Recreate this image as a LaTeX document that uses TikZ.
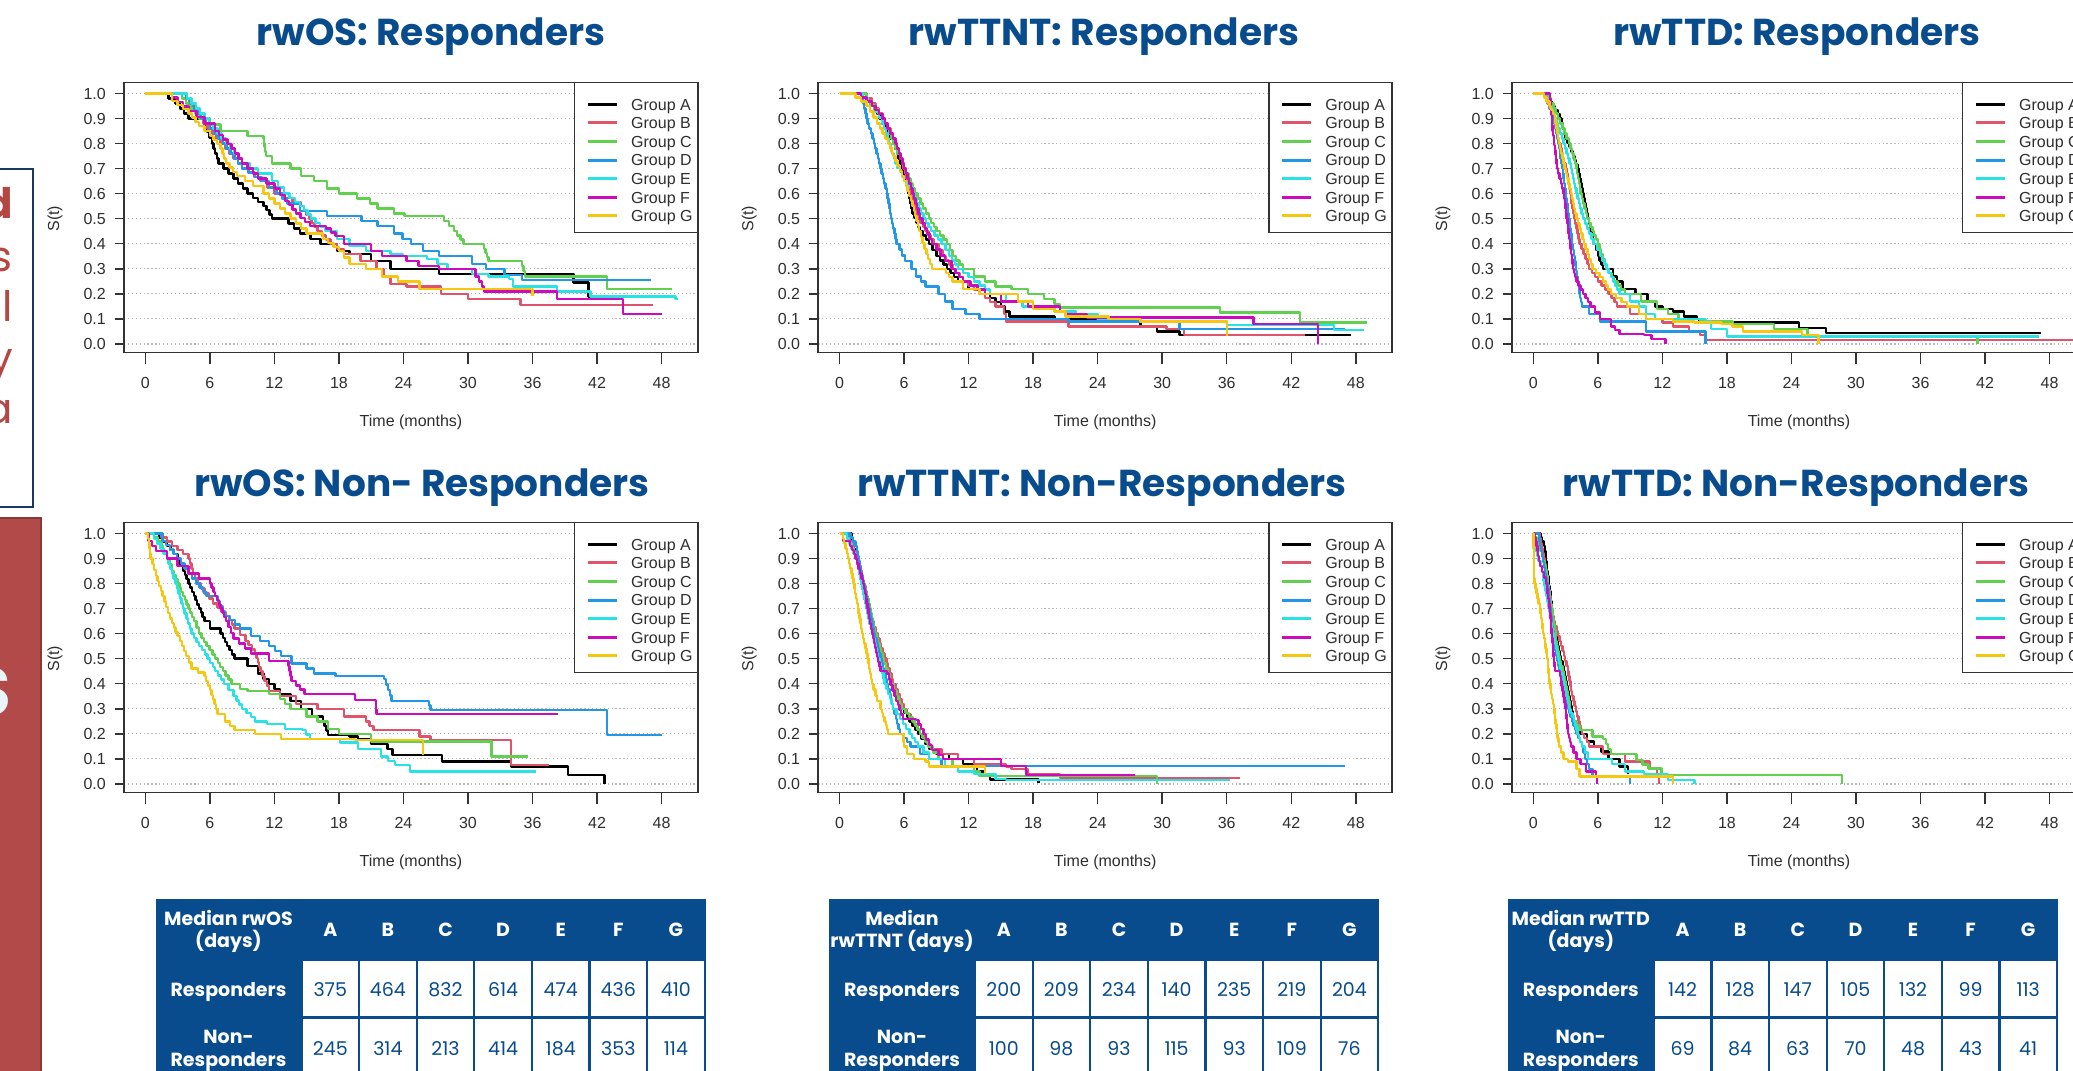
\documentclass[tikz,border=0pt]{standalone}
\usepackage{fontspec}
\setmainfont{Poppins}
\newfontfamily\plotfont{Liberation Sans}
\definecolor{nblue}{RGB}{8,76,141}
\definecolor{navyb}{RGB}{24,56,96}
\definecolor{redbox}{RGB}{178,74,74}
\definecolor{redline}{RGB}{140,55,55}
\definecolor{redtxt}{RGB}{181,70,66}
\definecolor{glyphw}{RGB}{234,244,251}
\definecolor{kmA}{HTML}{000000}
\definecolor{kmB}{HTML}{DF536B}
\definecolor{kmC}{HTML}{61D04F}
\definecolor{kmD}{HTML}{2297E6}
\definecolor{kmE}{HTML}{28E2E5}
\definecolor{kmF}{HTML}{CD0BBC}
\definecolor{kmG}{HTML}{F5C710}
\tikzset{
  kmline/.style={line width=2.4pt, line join=round},
  gridl/.style={draw=black!28, line width=1.1pt, dash pattern=on 1.3pt off 2.6pt},
  axl/.style={draw=black!80, line width=1.5pt},
  ptext/.style={font=\plotfont\fontsize{16}{18}\selectfont, text=black!82, inner sep=0pt},
  ttl/.style={font=\bfseries\fontsize{37.5}{42}\selectfont, text=nblue, inner sep=0pt, anchor=base},
  hdr/.style={font=\bfseries\fontsize{19}{22}\selectfont, text=white, inner sep=0pt, anchor=base},
  val/.style={font=\fontsize{19}{22}\selectfont, text=nblue, inner sep=0pt, anchor=base},
  redt/.style={font=\fontsize{42}{44}\selectfont, text=redtxt, inner sep=0pt, anchor=base east},
}
% Kaplan-Meier staircase from knots t/s
\newcommand\km[2]{%
  \gdef\kmpath{(0,1)}\gdef\kmpt{0}\gdef\kmps{1}%
  \foreach \kt/\ks in {#2}{%
    \pgfmathtruncatemacro\kmk{max(1,round((\kmps-\ks)/0.02))}%
    \foreach \kj in {1,...,\kmk}{%
      \pgfmathsetmacro\kmx{\kmpt+(\kt-\kmpt)*\kj/\kmk}%
      \pgfmathsetmacro\kmy{\kmps+(\ks-\kmps)*\kj/\kmk}%
      \xdef\kmpath{\kmpath\space -| (\kmx,\kmy)}%
    }%
    \xdef\kmpt{\kt}\xdef\kmps{\ks}%
  }%
  \edef\kmcmd{\noexpand\draw[kmline,#1] \kmpath;}\kmcmd
}
\newcommand\kmaxes[1]{%
  \foreach \k in {0,...,10}{\draw[gridl] (124,{344-25.07*\k}) -- (698,{344-25.07*\k});}
  \foreach \k/\lab in {0/0.0,1/0.1,2/0.2,3/0.3,4/0.4,5/0.5,6/0.6,7/0.7,8/0.8,9/0.9,10/1.0}{%
    \draw[axl] (114.7,{344-25.07*\k}) -- (124,{344-25.07*\k});
    \node[ptext,anchor=base east] (#1-y\k) at (106,{344-25.07*\k+5.7}) {\lab};}
  \foreach \m in {0,6,...,48}{%
    \draw[axl] ({145.3+10.756*\m},352.7) -- ++(0,11.3);
    \node[ptext,anchor=base] (#1-x\m) at ({145.3+10.756*\m},388.7) {\m};}
  \node[ptext,anchor=base] (#1-xt) at (411,426.7) {Time (months)};
  \node[ptext,rotate=90] (#1-yt) at (55,218.7) {S(t)};
}
\newcommand\kmlegend[1]{%
  \draw[axl,fill=white] (574.7,82.7) rectangle (698,232.7);
  \foreach \g [count=\i from 0] in {A,B,C,D,E,F,G}{%
    \draw[color=km\g, line width=3pt] (588,{104.3+18.6*\i}) -- (617,{104.3+18.6*\i});
    \node[ptext,anchor=base west] (#1-l\g) at (631,{104.3+18.6*\i+5.7}) {Group \g};}
  \draw[axl] (124,82.7) rectangle (698,352.7);
}
\newcommand\mtab[6]{%
  \begin{scope}[shift={(#1,0)}]
    \fill[nblue] (0,899) rectangle (550,1090);
    \foreach \h [count=\i from 0] in {A,B,C,D,E,F,G}{%
      \node[hdr] (#2-h\h) at ({146+57.6*(\i+0.5)},936.5) {\h};}
    \foreach \v [count=\i from 0] in {#5}{%
      \fill[white] ({146+57.6*\i+1.1},961) rectangle ({146+57.6*(\i+1)-1.1},1016.4);
      \node[val] (#2-r\i) at ({146+57.6*(\i+0.5)},996) {\v};}
    \foreach \v [count=\i from 0] in {#6}{%
      \fill[white] ({146+57.6*\i+1.1},1018.6) rectangle ({146+57.6*(\i+1)-1.1},1090);
      \node[val] (#2-n\i) at ({146+57.6*(\i+0.5)},1055) {\v};}
    \node[hdr] (#2-m1) at (73,925.5) {#3};
    \node[hdr] (#2-m2) at (73,947) {#4};
    \node[hdr] (#2-lr) at (73,996) {Responders};
    \node[hdr] (#2-ln1) at (73,1043) {Non-};
    \node[hdr] (#2-ln2) at (73,1066.5) {Responders};
  \end{scope}
}
\begin{document}
\begin{tikzpicture}[x=1pt,y=-1pt]
\useasboundingbox (0,0) rectangle (2073,1071);
% ---------- left edge fragments
\draw[draw=navyb, line width=2pt, fill=white] (-10,169) rectangle (33,507);
\node[redt,font=\bfseries\fontsize{42}{44}\selectfont] (r1) at (13,218) {d};
\node[redt] (r2) at (13,271) {s};
\node[redt] (r3) at (13,321) {ll};
\node[redt] (r4) at (13,372) {y};
\node[redt] (r5) at (13,423) {a};
\draw[draw=redline, line width=1.5pt, fill=redbox] (-10,518) rectangle (41,1090);
\node[anchor=east, inner sep=0pt, text=glyphw, font=\bfseries\fontsize{68}{70}\selectfont] (wS) at (12,692) {S};
% ---------- titles
\node[ttl] (t1) at (431,45.7) {rwOS: Responders};
\node[ttl] (t2) at (1104,45.7) {rwTTNT: Responders};
\node[ttl] (t3) at (1797,45.7) {rwTTD: Responders};
\node[ttl] (t4) at (422,496.7) {rwOS: Non- Responders};
\node[ttl] (t5) at (1102,496.7) {rwTTNT: Non-Responders};
\node[ttl] (t6) at (1796,496.7) {rwTTD: Non-Responders};
% ---------- plot 1: rwOS responders
\begin{scope}
\kmaxes{p1}
\begin{scope}[shift={(145.3,344)},x=10.756pt,y=250.7pt]
\km{kmA}{1.5/1, 2.8/0.96, 4/0.9, 5.5/0.87, 6.2/0.8, 6.8/0.72, 8.2/0.66, 9.5/0.6, 11/0.55, 11.8/0.5, 13.3/0.48, 14.4/0.44, 16.3/0.4, 17.8/0.37, 19/0.36, 21/0.33, 22.8/0.3, 27.3/0.3, 27.3/0.28, 39.8/0.28, 39.8/0.245, 41.2/0.245, 41.2/0.19, 48.2/0.19}
\km{kmB}{3.5/1, 5/0.9, 7/0.8, 9/0.7, 10.7/0.65, 12/0.6, 14.5/0.55, 15.2/0.5, 16/0.45, 17.2/0.4, 18.5/0.36, 20/0.33, 21.5/0.3, 22.2/0.27, 22.8/0.24, 24.3/0.23, 27.5/0.2, 30/0.18, 34.9/0.18, 34.9/0.155, 47.2/0.155}
\km{kmC}{3/1, 5/0.9, 7/0.85, 9.5/0.83, 11/0.82, 11.2/0.75, 11.8/0.72, 13.5/0.7, 14.5/0.67, 15.7/0.65, 16.9/0.62, 18/0.6, 19.7/0.58, 20.9/0.56, 21.6/0.54, 23.1/0.52, 24.1/0.51, 27.3/0.51, 28.7/0.45, 29.6/0.4, 31.5/0.38, 31.9/0.33, 34.9/0.33, 35.3/0.27, 42.9/0.27, 42.9/0.22, 49/0.22}
\km{kmD}{3.5/1, 5.2/0.9, 7.2/0.8, 9/0.7, 10.8/0.65, 12.2/0.6, 13.2/0.56, 14.4/0.53, 16.9/0.53, 16.9/0.51, 20.1/0.51, 20.1/0.49, 21.6/0.47, 23.1/0.44, 24.7/0.4, 25.8/0.37, 27.3/0.37, 27.3/0.35, 30.4/0.32, 31.7/0.3, 33.4/0.275, 35/0.255, 47/0.255}
\km{kmE}{3.5/1, 5.5/0.9, 7.5/0.8, 9/0.72, 10.5/0.68, 11.8/0.65, 12.9/0.6, 14.4/0.55, 15.4/0.5, 16.7/0.45, 17.8/0.42, 19/0.39, 20.5/0.37, 22.8/0.36, 23.9/0.35, 26.2/0.34, 28.1/0.3, 30.4/0.28, 31.9/0.27, 33.8/0.26, 34.2/0.23, 38.3/0.23, 38.3/0.21, 41.4/0.19, 49.3/0.18, 49.5/0.18}
\km{kmF}{2/1, 4/0.93, 5.5/0.88, 6.5/0.85, 8/0.78, 9/0.72, 10.5/0.66, 12/0.62, 13/0.57, 14/0.52, 15.3/0.47, 16.8/0.46, 17.7/0.43, 18.5/0.4, 21/0.4, 21/0.37, 22/0.35, 24.3/0.33, 25.4/0.31, 27.3/0.3, 30.7/0.3, 30.7/0.27, 31.3/0.23, 31.5/0.21, 38.3/0.21, 38.3/0.18, 44.4/0.18, 44.4/0.12, 48/0.12}
\km{kmG}{1/1, 2.5/0.97, 4/0.92, 5/0.87, 6/0.83, 7/0.78, 7.5/0.72, 8.5/0.67, 10/0.63, 11/0.6, 12/0.56, 13/0.52, 14/0.48, 15/0.44, 16.5/0.42, 18/0.37, 19/0.32, 20.5/0.3, 22/0.27, 23.5/0.25, 25.5/0.22, 36/0.22, 36/0.19}
\end{scope}
\kmlegend{p1}
\end{scope}
% ---------- plot 2: rwTTNT responders
\begin{scope}[shift={(694.2,0)}]
\kmaxes{p2}
\begin{scope}[shift={(145.3,344)},x=10.756pt,y=250.7pt]
\km{kmA}{1.5/1, 3/0.95, 3.7/0.9, 5/0.8, 5.8/0.7, 6.4/0.6, 6.8/0.52, 7.5/0.45, 8.3/0.4, 9/0.35, 10/0.3, 11/0.25, 12/0.22, 13.5/0.2, 15/0.15, 15.8/0.11, 20/0.1, 24/0.09, 28/0.07, 29.5/0.05, 31.6/0.05, 31.6/0.035, 47.6/0.035}
\km{kmB}{2/1, 3/0.96, 4/0.9, 5/0.82, 5.8/0.72, 6.6/0.6, 7.3/0.5, 8/0.45, 8.8/0.4, 9.6/0.35, 10.5/0.3, 11.5/0.25, 13/0.2, 14.5/0.15, 15.3/0.12, 15.5/0.09, 21.3/0.09, 21.3/0.07, 30.4/0.06, 32/0.035, 43.3/0.035}
\km{kmC}{1.5/1, 2.5/0.97, 4/0.9, 5/0.8, 6/0.7, 7/0.6, 8.3/0.5, 9/0.45, 10/0.4, 10.5/0.35, 11.5/0.3, 12.5/0.27, 13.5/0.25, 14.5/0.23, 16/0.22, 17.5/0.2, 19/0.18, 20/0.16, 20.5/0.145, 35.4/0.145, 35.4/0.125, 42.8/0.125, 42.8/0.085, 49/0.085}
\km{kmD}{2/1, 2.6/0.88, 3.2/0.8, 3.8/0.7, 4.4/0.6, 4.8/0.5, 5.3/0.4, 6.1/0.33, 6.7/0.3, 7.1/0.27, 8/0.23, 9.2/0.2, 9.8/0.17, 10.5/0.14, 11.7/0.12, 13/0.12, 13/0.1, 21.3/0.1, 21.3/0.09, 31.6/0.09, 31.6/0.06, 47/0.06}
\km{kmE}{1.8/1, 3/0.95, 4/0.88, 5.2/0.72, 6/0.65, 6.8/0.6, 7.8/0.5, 8.5/0.45, 9.5/0.4, 10.2/0.35, 11/0.3, 12.5/0.25, 14/0.2, 15.5/0.17, 17/0.15, 20/0.13, 22/0.12, 24/0.1, 28/0.09, 36/0.075, 46/0.055, 48.8/0.055}
\km{kmF}{1.5/1, 3/0.95, 4/0.9, 5.2/0.8, 6/0.7, 6.8/0.6, 7.5/0.5, 8.6/0.4, 9.8/0.33, 10.4/0.3, 11.5/0.25, 13.5/0.2, 15/0.17, 17.5/0.15, 20.5/0.13, 21/0.12, 23/0.105, 38.5/0.105, 38.5/0.08, 44.5/0.08, 44.5/0}
\km{kmG}{1/1, 2.5/0.95, 3.5/0.88, 4.5/0.8, 5/0.75, 6/0.65, 6.8/0.55, 7.4/0.45, 7.9/0.38, 8.6/0.3, 9.6/0.3, 10.5/0.25, 11.5/0.22, 13/0.2, 16.5/0.2, 16.6/0.17, 18/0.14, 20/0.13, 21/0.11, 25/0.1, 28/0.09, 36/0.09, 36/0.03}
\end{scope}
\kmlegend{p2}
\end{scope}
% ---------- plot 3: rwTTD responders
\begin{scope}[shift={(1388,0)}]
\kmaxes{p3}
\begin{scope}[shift={(145.3,344)},x=10.756pt,y=250.7pt]
\km{kmA}{1/1, 1.7/0.95, 2.5/0.9, 3/0.82, 3.7/0.75, 4.1/0.7, 4.6/0.6, 5.1/0.5, 5.6/0.4, 6/0.35, 6.5/0.3, 7.4/0.27, 7.8/0.25, 8.3/0.22, 9.5/0.2, 10.6/0.17, 11.3/0.15, 12/0.14, 13/0.13, 14/0.11, 15.2/0.1, 15.4/0.085, 24.7/0.085, 24.7/0.065, 27.2/0.065, 27.2/0.045, 47.2/0.045}
\km{kmB}{1/1, 1.8/0.9, 2.4/0.8, 3/0.7, 3.4/0.6, 3.8/0.5, 4.3/0.4, 5.2/0.3, 6/0.25, 7/0.2, 7.8/0.15, 9/0.12, 10.5/0.1, 12/0.085, 13/0.07, 14.5/0.05, 15.5/0.035, 16/0.015, 51/0.015}
\km{kmC}{1.2/1, 2.3/0.9, 3.3/0.8, 4/0.7, 4.4/0.6, 5/0.5, 5.5/0.45, 6/0.4, 6.8/0.3, 7.5/0.25, 8.5/0.2, 10/0.17, 11.5/0.14, 12.5/0.12, 13.5/0.1, 15.5/0.09, 18.5/0.08, 22.4/0.06, 25.5/0.03, 41.3/0.03, 41.3/0}
\km{kmD}{1/1, 1.9/0.9, 2.3/0.8, 2.7/0.7, 3/0.6, 3.3/0.5, 3.6/0.4, 3.8/0.35, 4.1/0.25, 4.3/0.2, 4.5/0.15, 5.2/0.12, 6.2/0.09, 10.5/0.09, 10.5/0.05, 16/0.05, 16/0}
\km{kmE}{1/1, 2/0.9, 2.8/0.8, 3.5/0.7, 4/0.6, 4.6/0.5, 5.6/0.4, 6.2/0.35, 6.8/0.3, 7.4/0.25, 8/0.2, 9/0.17, 9.8/0.15, 10.5/0.12, 11.3/0.1, 16/0.09, 16.5/0.06, 18/0.03, 47/0.03}
\km{kmF}{1.5/1, 1.8/0.85, 2.2/0.7, 2.8/0.6, 3.1/0.5, 3.4/0.4, 3.7/0.3, 4/0.25, 4.6/0.2, 5.3/0.15, 6.2/0.1, 7.2/0.07, 8/0.04, 10.3/0.035, 11/0.02, 12.3/0.02, 12.3/0}
\km{kmG}{0.7/1, 1.5/0.95, 2/0.9, 2.4/0.8, 2.9/0.7, 3.5/0.6, 4/0.5, 4.7/0.4, 5.5/0.3, 6.5/0.25, 7.2/0.2, 8.7/0.15, 9.8/0.12, 10.5/0.1, 13/0.09, 15/0.085, 17.5/0.08, 18.5/0.07, 19.5/0.05, 25/0.035, 26.5/0.035, 26.5/0}
\end{scope}
\kmlegend{p3}
\end{scope}
% ---------- plot 4: rwOS non-responders
\begin{scope}[shift={(0,440)}]
\kmaxes{p4}
\begin{scope}[shift={(145.3,344)},x=10.756pt,y=250.7pt]
\km{kmA}{1/1, 2/0.95, 3/0.9, 3.5/0.85, 4/0.8, 4.5/0.75, 5/0.7, 5.5/0.65, 6/0.62, 7/0.6, 7.6/0.55, 8.3/0.5, 9.5/0.47, 10.5/0.44, 11.5/0.4, 12.5/0.36, 13.5/0.33, 14.5/0.3, 15.5/0.27, 16.5/0.25, 17/0.195, 19/0.19, 19.8/0.18, 21/0.16, 22.5/0.14, 23/0.115, 27.6/0.115, 27.6/0.09, 34/0.09, 34/0.07, 39.3/0.07, 39.3/0.035, 42.7/0.035, 42.7/0}
\km{kmB}{1/1, 2.5/0.95, 4/0.9, 4.6/0.82, 5.5/0.76, 6.3/0.72, 7.5/0.67, 8.3/0.62, 9.3/0.57, 10.2/0.52, 10.7/0.45, 11.5/0.37, 12.5/0.35, 14/0.32, 16/0.3, 18.5/0.27, 20.5/0.25, 21.2/0.215, 25.5/0.215, 25.5/0.19, 26.5/0.175, 34/0.175, 34/0.076, 37.5/0.076}
\km{kmC}{0.5/1, 1.5/0.95, 2/0.9, 2.5/0.85, 3/0.8, 3.5/0.75, 4/0.7, 4.5/0.65, 5/0.6, 5.7/0.55, 6.5/0.5, 7.2/0.45, 8/0.4, 8.8/0.38, 9.5/0.37, 11.5/0.36, 12.5/0.34, 13.5/0.3, 15/0.27, 16/0.25, 17/0.22, 18/0.2, 20/0.2, 21/0.17, 32.2/0.17, 32.2/0.11, 35.6/0.11}
\km{kmD}{1.6/0.97, 2.95/0.9, 4.7/0.8, 5.7/0.75, 6.7/0.73, 7.4/0.67, 8.8/0.62, 9.8/0.59, 11.5/0.55, 12.6/0.51, 13.6/0.48, 15/0.46, 15.7/0.44, 17.7/0.43, 22.2/0.42, 22.9/0.33, 26.3/0.33, 26.5/0.295, 42.9/0.295, 42.9/0.195, 48/0.195}
\km{kmE}{0.5/1, 2/0.9, 2.8/0.8, 3.5/0.7, 4.3/0.6, 5/0.55, 5.8/0.5, 6.5/0.45, 7.3/0.4, 8.2/0.35, 9/0.3, 10.2/0.25, 11.3/0.24, 13/0.22, 14.6/0.215, 15.3/0.18, 18.1/0.18, 18.1/0.165, 19.8/0.14, 21.9/0.11, 23.2/0.075, 24.6/0.05, 36.3/0.05}
\km{kmF}{0.3/0.97, 1/0.93, 2/0.9, 3/0.87, 4/0.84, 5/0.82, 6/0.8, 6.5/0.75, 7/0.7, 7.5/0.65, 8.2/0.58, 9.8/0.52, 11.5/0.49, 13.3/0.47, 13.6/0.41, 14.8/0.36, 19.3/0.36, 19.5/0.335, 21.4/0.33, 21.5/0.28, 38.4/0.28}
\km{kmG}{0.2/1, 0.5/0.9, 1/0.83, 1.6/0.75, 2.3/0.66, 3/0.59, 3.8/0.51, 4.3/0.46, 5.5/0.43, 6/0.375, 6.7/0.28, 7.4/0.25, 8.3/0.215, 10.2/0.2, 12.6/0.18, 19.5/0.175, 25.8/0.175, 25.8/0.115}
\end{scope}
\kmlegend{p4}
\end{scope}
% ---------- plot 5: rwTTNT non-responders
\begin{scope}[shift={(694.2,440)}]
\kmaxes{p5}
\begin{scope}[shift={(145.3,344)},x=10.756pt,y=250.7pt]
\km{kmA}{1/1, 1.5/0.9, 2/0.8, 2.5/0.7, 3/0.6, 4/0.5, 4.8/0.4, 5.8/0.3, 6.5/0.25, 7.3/0.2, 8.3/0.14, 9/0.12, 10.2/0.1, 11.5/0.08, 12.8/0.05, 14/0.018, 18.5/0.005}
\km{kmB}{0.5/1, 1.2/0.95, 2/0.85, 2.5/0.75, 3/0.65, 3.4/0.6, 4.2/0.5, 5/0.4, 6/0.3, 7.5/0.2, 8.5/0.14, 9.5/0.12, 11/0.1, 12.5/0.08, 15.5/0.07, 16/0.06, 17.5/0.04, 20.5/0.025, 37.2/0.025}
\km{kmC}{0.5/1, 1.5/0.9, 2.2/0.8, 2.8/0.7, 3.3/0.6, 4/0.5, 4.8/0.4, 5.3/0.35, 5.8/0.3, 6.8/0.25, 7.5/0.2, 8.2/0.15, 9.2/0.1, 10.5/0.07, 12.5/0.05, 13/0.032, 29.5/0.032, 29.5/0}
\km{kmD}{0.8/1, 1.5/0.95, 2/0.85, 2.7/0.7, 3.2/0.6, 3.8/0.5, 4.4/0.4, 5/0.3, 5.6/0.2, 6.6/0.15, 7.5/0.12, 8.3/0.1, 9.5/0.073, 47/0.073}
\km{kmE}{0.5/1, 1.5/0.9, 2/0.8, 2.5/0.7, 3/0.6, 3.6/0.5, 4.2/0.4, 5/0.3, 6.5/0.2, 7.3/0.15, 8.3/0.1, 9.8/0.07, 11/0.05, 12.5/0.04, 14.5/0.02, 15.5/0.016, 36.3/0.016}
\km{kmF}{0.3/0.97, 1/0.95, 1.5/0.9, 2.2/0.8, 2.6/0.7, 3/0.6, 3.8/0.45, 4.4/0.44, 5.1/0.35, 5.9/0.26, 7.1/0.255, 7.8/0.2, 8.6/0.135, 9.2/0.115, 9.6/0.1, 14.8/0.1, 15/0.073, 17.3/0.07, 17.4/0.035, 27.5/0.035}
\km{kmG}{0.2/1, 0.8/0.9, 1.3/0.8, 1.7/0.7, 2.1/0.6, 2.6/0.5, 3/0.4, 3.5/0.33, 3.8/0.3, 4.2/0.25, 4.5/0.2, 5.9/0.2, 6/0.15, 6.3/0.12, 6.9/0.1, 8/0.09, 8.3/0.07, 13.5/0.07, 13.5/0.04}
\end{scope}
\kmlegend{p5}
\end{scope}
% ---------- plot 6: rwTTD non-responders
\begin{scope}[shift={(1388,440)}]
\kmaxes{p6}
\begin{scope}[shift={(145.3,344)},x=10.756pt,y=250.7pt]
\km{kmA}{0.5/1, 1/0.95, 1.3/0.85, 1.6/0.75, 1.8/0.65, 2.3/0.55, 2.8/0.45, 3.3/0.35, 3.8/0.25, 4.4/0.2, 5/0.17, 6.3/0.13, 7/0.1, 8/0.07, 8.8/0.05, 8.8/0.04}
\km{kmB}{0.5/1, 1/0.9, 1.5/0.75, 2/0.63, 2.6/0.55, 3.2/0.45, 3.6/0.35, 4.2/0.25, 4.5/0.2, 5.2/0.15, 6.5/0.12, 8.5/0.09, 10.8/0.06, 11.5/0.04, 11.7/0.04, 11.7/0}
\km{kmC}{0.5/0.95, 1.2/0.85, 1.7/0.7, 2.2/0.55, 2.7/0.45, 3.2/0.35, 3.5/0.27, 4.3/0.215, 5.5/0.19, 6.5/0.18, 7.2/0.12, 9.6/0.095, 10.7/0.062, 11.9/0.036, 28.7/0.036, 28.7/0}
\km{kmD}{0.5/1, 0.6/0.95, 1.3/0.8, 1.7/0.65, 2/0.55, 2.4/0.45, 2.9/0.35, 3.2/0.3, 3.6/0.25, 4/0.2, 4.5/0.15, 4.8/0.1, 5.2/0.06, 5.5/0.03, 9/0.03, 9/0}
\km{kmE}{0.2/0.93, 0.8/0.85, 1.2/0.75, 1.8/0.6, 2.3/0.5, 2.8/0.4, 3.3/0.3, 3.8/0.25, 4.1/0.2, 4.5/0.15, 5.1/0.1, 7/0.1, 7.3/0.08, 8.5/0.05, 10.3/0.04, 12.5/0.016, 15/0.016, 15/0}
\km{kmF}{0.3/0.95, 0.6/0.87, 1.2/0.8, 1.5/0.7, 1.7/0.6, 2/0.45, 2.4/0.45, 2.7/0.37, 3/0.3, 3.2/0.2, 3.5/0.15, 4/0.1, 4.4/0.08, 4.9/0.05, 5.8/0.03, 5.9/0}
\km{kmG}{0.1/0.8, 0.6/0.7, 0.9/0.6, 1.3/0.5, 1.5/0.4, 1.9/0.3, 2.2/0.2, 2.4/0.15, 2.8/0.1, 3.2/0.09, 4/0.06, 4.3/0.03, 13/0.03, 13/0}
\end{scope}
\kmlegend{p6}
\end{scope}
% ---------- tables
\mtab{155.5}{tb1}{Median rwOS}{(days)}{375,464,832,614,474,436,410}{245,314,213,414,184,353,114}
\mtab{829}{tb2}{Median}{rwTTNT (days)}{200,209,234,140,235,219,204}{100,98,93,115,93,109,76}
\mtab{1507.8}{tb3}{Median rwTTD}{(days)}{142,128,147,105,132,99,113}{69,84,63,70,48,43,41}
\end{tikzpicture}
\end{document}
